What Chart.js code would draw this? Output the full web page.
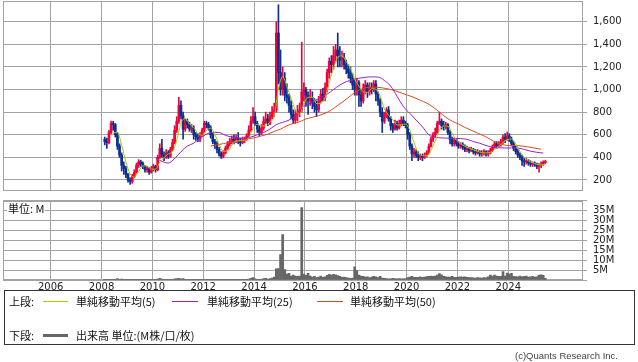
<!DOCTYPE html>
<html><head><meta charset="utf-8">
<script src="https://cdn.jsdelivr.net/npm/chart.js@4.4.1/dist/chart.umd.min.js"></script>
<style>
html,body{margin:0;padding:0;background:#fff;width:638px;height:362px;overflow:hidden;}
#wrap{position:relative;width:638px;height:362px;font-family:"Noto Sans CJK JP","DejaVu Sans",sans-serif;color:#111;}
canvas{position:absolute;left:0;}
#pc{top:0;}
#vc{top:196px;}
.t{position:absolute;font-size:11px;line-height:14px;white-space:nowrap;}
.ln{position:absolute;height:1px;}
#unit{position:absolute;left:7px;top:202px;font-size:11px;line-height:13px;background:#fff;padding:0 1px;}
#box{position:absolute;left:4px;top:290px;width:631px;height:55px;border:1px solid #333;box-sizing:border-box;}
#copy{position:absolute;right:20px;top:350px;font-family:"Liberation Sans",sans-serif;font-size:9.5px;color:#444;}
</style>
</head><body>
<div id="wrap">
<canvas id="pc" width="638" height="193"></canvas>
<canvas id="vc" width="638" height="96"></canvas>
<div id="unit">単位: M</div>
<div id="box"></div>
<div class="t" style="left:9px;top:294px;">上段:</div>
<div class="ln" style="left:43px;top:301px;width:25px;background:#a8c800;"></div>
<div class="t" style="left:76px;top:294px;">単純移動平均(5)</div>
<div class="ln" style="left:172px;top:301px;width:26px;background:#9a1fcf;"></div>
<div class="t" style="left:207px;top:294px;">単純移動平均(25)</div>
<div class="ln" style="left:317px;top:301px;width:26px;background:#e04a1a;"></div>
<div class="t" style="left:350px;top:294px;">単純移動平均(50)</div>
<div class="t" style="left:9px;top:328px;">下段:</div>
<div class="ln" style="left:43px;top:334px;width:25px;height:3px;background:#666;"></div>
<div class="t" style="left:76px;top:328px;">出来高 単位:(M株/口/枚)</div>
<div id="copy">(c)Quants Research Inc.</div>
</div>
<script>
// ---- data (monthly candles, first candle = Feb 2008) ----
const firstYear = 2008, firstMonth = 2;
const opens = [
 560,540,530,620,700,690,600,500,420,330,300,
 250,200,185,230,270,330,360,345,320,290,300,270,
 300,320,290,400,480,420,400,440,410,470,530,640,
 720,860,770,650,720,690,650,660,600,580,560,600,
 640,700,690,660,600,540,520,470,430,410,440,480,
 520,540,560,540,570,540,530,550,560,590,640,720,
 760,700,650,620,660,720,740,700,760,800,820,1500,
 1150,1000,1100,950,930,860,780,730,780,800,820,980,
 1000,950,900,930,880,850,820,900,960,930,1020,1150,
 1250,1220,1300,1350,1300,1260,1280,1220,1180,1150,1100,1040,
 1000,1060,950,900,1000,1040,980,1020,1000,1050,960,900,
 800,720,780,820,740,680,650,700,660,700,730,700,
 680,600,500,430,450,420,400,410,400,420,440,500,
 560,600,620,700,720,680,670,690,620,560,520,550,
 520,500,510,490,470,480,460,470,450,440,450,430,
 440,450,430,440,460,490,520,500,520,540,580,560,
 590,560,520,480,450,420,400,370,360,370,350,340,
 345,335,320,330,340,355];
const highs = [
 580,570,640,720,720,700,620,520,440,360,320,
 260,220,250,290,350,380,375,360,330,320,310,320,
 340,330,420,520,560,450,470,460,490,560,680,760,
 930,900,800,740,740,710,690,680,620,610,620,660,
 720,720,710,680,620,560,540,490,450,460,500,540,
 570,590,600,600,620,570,580,580,610,680,760,840,
 800,720,680,690,760,800,780,800,850,880,1600,1750,
 1350,1200,1150,1050,960,900,820,820,860,880,1420,1060,
 1020,980,1000,980,920,900,940,1000,1010,1060,1180,1280,
 1300,1380,1400,1500,1380,1340,1320,1260,1220,1200,1140,1080,
 1100,1080,1000,1050,1080,1060,1060,1060,1080,1080,980,920,
 840,800,840,850,760,700,730,720,730,760,760,720,
 700,620,520,480,470,450,430,430,440,460,520,580,
 620,660,720,800,740,720,710,700,640,580,570,560,
 540,530,530,510,500,490,490,480,470,470,460,460,
 470,460,460,480,510,540,540,540,560,600,610,625,
 610,580,540,500,470,440,420,390,390,380,370,360,
 360,350,345,360,370,375];
const lows = [
 510,480,520,610,640,580,470,400,280,250,220,
 180,160,170,220,260,310,320,300,270,270,250,260,
 280,270,280,390,400,370,390,390,400,460,520,620,
 700,740,560,630,660,630,620,560,550,540,540,580,
 620,660,640,570,520,480,440,410,390,395,430,470,
 500,520,520,530,520,500,520,530,550,580,630,700,
 680,620,590,600,640,700,680,690,740,760,800,1050,
 950,950,900,880,800,740,700,700,720,760,800,900,
 850,780,860,830,800,760,800,880,900,900,980,1100,
 1150,1180,1250,1200,1200,1200,1180,1140,1100,1060,1000,950,
 950,850,850,880,960,930,950,960,980,900,860,760,
 620,700,750,720,640,620,640,640,650,680,680,660,
 560,470,370,400,400,370,380,370,390,405,430,490,
 540,580,610,690,650,640,650,600,520,500,500,500,
 480,480,470,450,450,440,450,430,420,430,410,410,
 420,410,410,430,450,480,480,490,500,520,530,550,
 540,500,460,430,400,380,330,320,340,330,320,320,
 320,300,270,310,330,345];
const closes = [
 540,530,620,700,690,600,500,420,330,300,250,
 200,185,230,270,330,360,345,320,290,300,270,300,
 320,290,400,480,420,400,440,410,470,530,640,720,
 860,770,650,720,690,650,660,600,580,560,600,640,
 700,690,660,600,540,520,470,430,410,440,480,520,
 540,560,540,570,540,530,550,560,590,640,720,760,
 700,650,620,660,720,740,700,760,800,820,1500,1150,
 1000,1100,950,930,860,780,730,780,800,820,980,1000,
 950,900,930,880,850,820,900,960,930,1020,1150,1250,
 1220,1300,1350,1300,1260,1280,1220,1180,1150,1100,1040,1000,
 1060,950,900,1000,1040,980,1020,1000,1050,960,900,800,
 720,780,820,740,680,650,700,660,700,730,700,680,
 600,500,430,450,420,400,410,400,420,440,500,560,
 600,620,700,720,680,670,690,620,560,520,550,520,
 500,510,490,470,480,460,470,450,440,450,430,440,
 450,430,440,460,490,520,500,520,540,580,560,590,
 560,520,480,450,420,400,370,360,370,350,340,345,
 335,320,330,340,355,360];
// volume, millions of shares
const volumes = [
 0.3,0.2,0.3,0.4,0.3,0.4,0.7,0.4,0.5,0.3,0.3,
 0.3,0.2,0.3,0.3,0.4,0.3,0.2,0.2,0.2,0.2,0.2,0.2,
 0.2,0.2,0.5,0.8,0.5,0.3,0.3,0.3,0.3,0.4,0.6,0.7,
 0.9,0.6,0.7,0.4,0.3,0.3,0.3,0.3,0.2,0.2,0.2,0.3,
 0.3,0.3,0.3,0.2,0.2,0.2,0.2,0.2,0.2,0.2,0.3,0.3,
 0.3,0.3,0.3,0.3,0.3,0.2,0.2,0.2,0.3,0.5,0.9,1.2,
 0.6,0.4,0.3,0.4,0.7,0.8,0.5,0.7,1.0,1.5,5.6,5.8,
 12.8,22.8,5.3,3.0,3.3,2.0,2.5,2.0,1.8,2.0,36.5,3.0,
 2.3,3.3,2.0,1.5,1.8,1.2,1.5,2.0,1.3,1.6,2.4,2.8,
 2.5,2.8,2.6,2.2,1.8,1.3,1.5,1.2,1.0,0.9,1.0,6.6,
 4.8,2.5,2.0,1.8,1.5,1.6,1.2,1.5,1.8,1.6,1.2,1.9,
 1.0,0.8,0.7,0.6,0.6,0.8,0.7,0.6,0.7,0.6,0.6,0.7,
 1.2,1.5,1.8,1.4,1.3,1.4,1.6,1.3,1.5,1.7,1.8,2.0,
 1.8,2.0,2.5,3.2,2.6,1.8,1.6,1.5,1.5,1.8,1.4,1.3,
 1.5,1.6,1.5,1.6,1.3,1.2,1.2,1.1,1.0,1.2,1.1,1.0,
 1.2,1.1,1.6,2.5,2.0,2.5,2.0,1.8,1.9,4.2,2.0,3.5,
 3.0,3.3,1.8,1.7,1.6,2.0,1.6,1.8,2.0,1.5,1.6,1.8,
 1.5,1.6,2.5,2.6,2.4,0.8];
// moving averages (every 2nd / 3rd month)
const ma5Start = 4, ma5Step = 2;   // from Jun 2008
const ma5 = [
 616,622,508,360,
 253,227,275,325,323,296,
 296,358,398,430,450,554,
 704,744,696,664,610,596,
 638,658,602,512,454,456,
 508,546,548,550,574,654,
 694,678,678,716,764,1006,
 1114,1026,924,816,782,876,
 930,932,876,882,926,1062,
 1188,1284,1298,1248,1186,1094,
 1030,982,974,1008,1002,942,
 832,772,734,686,688,694,
 642,532,440,416,414,464,
 544,640,678,676,612,554,
 520,498,482,466,454,442,
 440,444,468,498,532,558,
 562,520,454,400,370,353,
 338,334,341];
const ma25Start = 24, ma25Step = 3; // from Feb 2010
const ma25 = [
 395,365,350,390,
 450,500,525,570,
 605,622,620,595,
 580,572,568,580,
 600,620,650,690,
 710,730,770,840,
 870,900,930,960,
 1000,1040,1070,1085,
 1100,1108,1112,1110,
 1080,1030,940,850,
 790,730,670,600,
 578,572,570,568,
 566,560,540,525,
 505,490,485,483,
 483,482,470,455,
 445,438];
const ma50Start = 50, ma50Step = 3; // from Apr 2012
const ma50 = [
 500,510,522,
 532,540,552,565,
 575,590,605,630,
 650,680,700,715,
 740,755,770,790,
 820,860,900,945,
 985,1010,1020,1020,
 1015,1005,990,970,
 950,930,905,880,
 845,800,755,720,
 695,665,640,615,
 590,560,530,512,
 505,505,500,492,
 482,472];
const yearTicks = [2006,2008,2010,2012,2014,2016,2018,2020,2022,2024];
const priceTicks = [200,400,600,800,1000,1200,1400,1600];
const volumeTicks = [5,10,15,20,25,30,35];

// ---- styling ----
const RED = '#f0003c', BLUE = '#0d2f8f', GRID = '#a3a3a3';
const X_MIN = 2004.124, X_MAX = 2026.939;
const Y_MIN = 102.7, Y_MAX = 1783;
Chart.defaults.font.family = 'DejaVu Sans';
Chart.defaults.color = '#222';

function monthX(i){ const m = firstMonth - 1 + i; return firstYear + Math.floor(m/12) + ((m % 12) + 0.5)/12; }
const frame = { id:'frame', beforeDatasetsDraw(c){ const a=c.chartArea, ctx=c.ctx; ctx.save(); ctx.strokeStyle=GRID; ctx.lineWidth=1; ctx.strokeRect(Math.round(a.left)+0.5, Math.round(a.top)+0.5, Math.round(a.right)-Math.round(a.left)-1, Math.round(a.bottom)-Math.round(a.top)-1); ctx.restore(); } };
const noPad = s => { s.paddingTop = 0; s.paddingBottom = 0; s.paddingLeft = 0; s.paddingRight = 0; };

const cx = opens.map((_, i) => monthX(i));
const colors = opens.map((o, i) => closes[i] >= o ? RED : BLUE);
const wick = highs.map((h, i) => ({x: cx[i], y: [lows[i], h]}));
const body = opens.map((o, i) => ({x: cx[i], y: [Math.min(o, closes[i]), Math.max(o, closes[i])]}));
const maLine = (vals, s, st) => vals.map((v, k) => ({x: monthX(s + k*st), y: v}));
const lineDs = (label, data, color) => ({type:'line', label, data, borderColor: color, borderWidth: 1, pointRadius: 0, cubicInterpolationMode:'monotone', order: 0});

const xAxisBase = {type:'linear', min:X_MIN, max:X_MAX, offset:false,
  grid:{color:GRID, drawTicks:false, offset:false}, border:{display:false},
  afterBuildTicks: s => { s.ticks = yearTicks.map(v => ({value: v})); }};

new Chart(document.getElementById('pc'), {
  type: 'bar',
  data: { datasets: [
    lineDs('MA5', maLine(ma5, ma5Start, ma5Step), '#a8c800'),
    lineDs('MA25', maLine(ma25, ma25Start, ma25Step), '#9a1fcf'),
    lineDs('MA50', maLine(ma50, ma50Start, ma50Step), '#e04a1a'),
    {type:'bar', data: body, backgroundColor: colors, barThickness: 2, minBarLength: 1, grouped:false, borderWidth:0, order: 1},
    {type:'bar', data: wick, backgroundColor: colors, barThickness: 1, grouped:false, borderWidth:0, order: 2}
  ]},
  options: {
    responsive:false, animation:false, events:[],
    layout:{padding:{left:3, right:0, top:1, bottom:2}},
    plugins:{legend:{display:false}, tooltip:{enabled:false}},
    scales:{
      x: Object.assign({}, xAxisBase, {ticks:{display:false}, afterFit: s => { s.height = 0; noPad(s); }}),
      y: {type:'linear', position:'right', min:Y_MIN, max:Y_MAX,
          grid:{color:GRID, tickLength:4}, border:{display:false},
          afterBuildTicks: s => { s.ticks = priceTicks.map(v => ({value: v})); },
          afterFit: s => { s.width = 55; noPad(s); },
          ticks:{padding:6, autoSkip:false, font:{size:10}, color:'#222', callback: v => v.toLocaleString('en-US')}}
    }
  },
  plugins:[frame]
});

new Chart(document.getElementById('vc'), {
  type: 'bar',
  data: { datasets: [
    {data: volumes.map((v, i) => ({x: cx[i], y: v})), backgroundColor:'#666666', barThickness: 2, borderWidth:0}
  ]},
  options: {
    responsive:false, animation:false, events:[],
    layout:{padding:{left:3, right:0, top:4.5, bottom:0}},
    plugins:{legend:{display:false}, tooltip:{enabled:false}},
    scales:{
      x: Object.assign({}, xAxisBase, {ticks:{padding:1, font:{size:10}, color:'#222', maxRotation:0, autoSkip:false, callback: v => String(v)}, afterFit: s => { s.height = 12; noPad(s); }}),
      y: {type:'linear', position:'right', min:0, max:40,
          grid:{color:GRID, tickLength:4}, border:{display:false},
          afterBuildTicks: s => { s.ticks = [0].concat(volumeTicks, [40]).map(v => ({value: v})); },
          afterFit: s => { s.width = 55; noPad(s); },
          ticks:{padding:6, autoSkip:false, font:{size:10}, color:'#222', callback: v => volumeTicks.includes(v) ? v + 'M' : ''}}
    }
  },
  plugins:[frame]
});
</script>
</body></html>
